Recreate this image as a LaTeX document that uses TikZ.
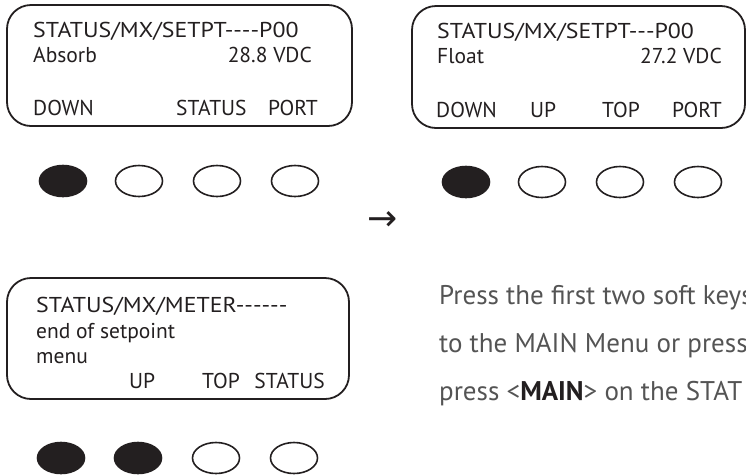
\documentclass[tikz,border=0pt]{standalone}
\usepackage{fontspec}
\setmainfont{PT Sans}
\newfontfamily\arrowfont{DejaVu Sans}
\usetikzlibrary{
  shapes.geometric,
  positioning
}
\definecolor{InkBlack}{RGB}{35,31,32}
\definecolor{NoteGray}{RGB}{84,84,84}
\newcommand\hy{-\kern0pt}
\newcommand\wide[1]{\scalebox{1.11}[1]{#1}}
\tikzset{
  lcdpanel/.style={draw=InkBlack,line width=1.8pt,rounded corners=24pt,inner sep=0pt},
  lcdtext/.style={font=\fontsize{21.5}{26}\selectfont,text=InkBlack,inner sep=0pt,anchor=base west},
  lcdright/.style={lcdtext,anchor=base east},
  softkey/.style={ellipse,draw=InkBlack,line width=1.6pt,minimum width=47pt,minimum height=31pt,inner sep=0pt},
  pressed/.style={softkey,fill=InkBlack},
  note/.style={font=\fontsize{27}{34}\selectfont,text=NoteGray,inner sep=0pt,anchor=base west}
}

\begin{document}
\begin{tikzpicture}[x=1pt,y=-1pt]
\useasboundingbox (0,0) rectangle (746,475);
\clip (0,0) rectangle (746,475);

% absorb setpoint screen
\node[lcdpanel,minimum width=345pt,minimum height=121pt] (absorb) at (179.5,65.5) {};
\node[lcdtext] (absorbhead) at (33,37) {\wide{STATUS/MX/SETPT\hy\hy\hy\hy P00}};
\node[lcdtext] (absorbname) at (33,62) {Absorb};
\node[lcdright] (absorbval) at (312,62) {28.8 VDC};
\node[lcdtext] (absorbdown) at (33,115) {DOWN};
\node[lcdtext] (absorbstatus) at (176,115) {STATUS};
\node[lcdright] (absorbport) at (318,115) {PORT};
\foreach \x/\s [count=\i] in {63/pressed,139/softkey,217/softkey,295/softkey}
  \node[\s] (absorbkey\i) at (\x,181) {};

% float setpoint screen
\node[lcdpanel,minimum width=333pt,minimum height=122pt] (float) at (578.5,67) {};
\node[lcdtext] (floathead) at (437,38) {\wide{STATUS/MX/SETPT\hy\hy\hy P00}};
\node[lcdtext] (floatname) at (437,63) {Float};
\node[lcdright] (floatval) at (722,63) {27.2 VDC};
\node[lcdtext] (floatdown) at (436,117) {DOWN};
\node[lcdtext] (floatup) at (530,117) {UP};
\node[lcdtext] (floattop) at (602,117) {TOP};
\node[lcdright] (floatport) at (722,117) {PORT};
\foreach \x/\s [count=\i] in {466/pressed,542/softkey,620/softkey,698/softkey}
  \node[\s] (floatkey\i) at (\x,182) {};

\node[font=\arrowfont\fontsize{36}{36}\selectfont,text=InkBlack,inner sep=0pt] (nextarrow) at (383,221) {→};

% end of setpoint menu
\node[lcdpanel,minimum width=342pt,minimum height=121pt] (endmenu) at (178,338.5) {};
\node[lcdtext] (endhead) at (36,312) {\wide{STATUS/MX/METER\hy\hy\hy\hy\hy\hy}};
\node[lcdtext] (endline) at (36,338) {end of setpoint};
\node[lcdtext] (endmenuword) at (36,363) {menu};
\node[lcdtext] (endup) at (129,388) {UP};
\node[lcdtext] (endtop) at (202,388) {TOP};
\node[lcdright] (endstatus) at (325,388) {STATUS};
\foreach \x/\s [count=\i] in {61/pressed,138/pressed,216/softkey,294/softkey}
  \node[\s] (endkey\i) at (\x,458) {};

% note
\node[note] (noteone) at (439,304) {Press the first two soft keys};
\node[note] (notetwo) at (439,352) {to the MAIN Menu or press};
\node[note] (notethree) at (439,400) {press <\textbf{\color{InkBlack}MAIN}> on the STAT};
\end{tikzpicture}
\end{document}
